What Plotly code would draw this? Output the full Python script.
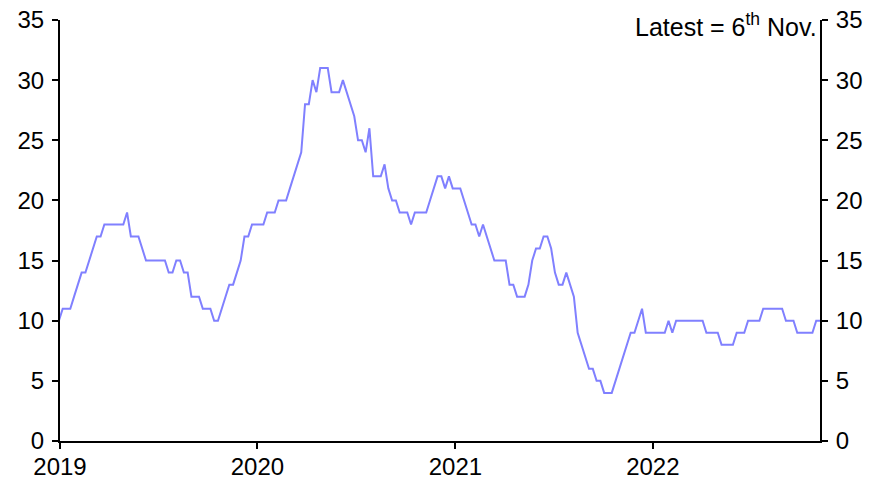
import pandas as pd
import plotly.graph_objects as go

# weekly readings, Sunday 30 Dec 2018 .. Sunday 6 Nov 2022
start_week = "2018-12-30"
values = [
    10, 11, 11, 11, 12, 13, 14, 14, 15, 16, 17, 17, 18, 18, 18, 18, 18, 18, 19, 17,
    17, 17, 16, 15, 15, 15, 15, 15, 15, 14, 14, 15, 15, 14, 14, 12, 12, 12, 11, 11,
    11, 10, 10, 11, 12, 13, 13, 14, 15, 17, 17, 18, 18, 18, 18, 19, 19, 19, 20, 20,
    20, 21, 22, 23, 24, 28, 28, 30, 29, 31, 31, 31, 29, 29, 29, 30, 29, 28, 27, 25,
    25, 24, 26, 22, 22, 22, 23, 21, 20, 20, 19, 19, 19, 18, 19, 19, 19, 19, 20, 21,
    22, 22, 21, 22, 21, 21, 21, 20, 19, 18, 18, 17, 18, 17, 16, 15, 15, 15, 15, 13,
    13, 12, 12, 12, 13, 15, 16, 16, 17, 17, 16, 14, 13, 13, 14, 13, 12, 9, 8, 7,
    6, 6, 5, 5, 4, 4, 4, 5, 6, 7, 8, 9, 9, 10, 11, 9, 9, 9, 9, 9,
    9, 10, 9, 10, 10, 10, 10, 10, 10, 10, 10, 9, 9, 9, 9, 8, 8, 8, 8, 9,
    9, 9, 10, 10, 10, 10, 11, 11, 11, 11, 11, 11, 10, 10, 10, 9, 9, 9, 9, 9,
    10, 10,
]
dates = pd.date_range(start_week, periods=len(values), freq="7D")

year_ticks = ["2019-01-01", "2020-01-01", "2021-01-01", "2022-01-01"]
year_labels = ["2019", "2020", "2021", "2022"]
y_ticks = [0, 5, 10, 15, 20, 25, 30, 35]

FONT = dict(family="Liberation Sans, Arial, sans-serif", size=24, color="#000000")

fig = go.Figure()
fig.add_trace(go.Scatter(
    x=dates, y=values, mode="lines",
    line=dict(color="#8080FF", width=2),
    showlegend=False,
))
# invisible copy so the right-hand axis is drawn
fig.add_trace(go.Scatter(
    x=dates, y=values, mode="lines", yaxis="y2",
    line=dict(color="rgba(0,0,0,0)", width=0),
    showlegend=False, hoverinfo="skip",
))

axis_common = dict(
    range=[0, 35], tickvals=y_ticks, showgrid=False, zeroline=False,
    showline=True, linecolor="#000000", linewidth=2,
    ticks="outside", ticklen=6, tickwidth=2, tickcolor="#000000",
    tickfont=FONT, automargin=False, ticklabelstandoff=3,
    ticklabeloverflow="allow",
)

# page body has an 8px margin, so the figure is a little smaller than the window
fig.update_layout(
    width=875, height=476,
    margin=dict(l=52, r=63, t=12, b=43),
    paper_bgcolor="#ffffff", plot_bgcolor="#ffffff",
    xaxis=dict(
        range=["2019-01-01", "2022-11-06"],
        tickvals=year_ticks, ticktext=year_labels,
        showgrid=False, zeroline=False,
        showline=True, linecolor="#000000", linewidth=2,
        ticks="outside", ticklen=6, tickwidth=2, tickcolor="#000000",
        tickfont=FONT, automargin=False, ticklabelstandoff=-3,
        ticklabeloverflow="allow",
    ),
    yaxis=dict(side="left", **axis_common),
    yaxis2=dict(side="right", overlaying="y", **axis_common),
    annotations=[dict(
        text="Latest = 6<sup>th</sup> Nov.",
        xref="paper", yref="paper", x=0.995, y=1.0,
        xanchor="right", yanchor="middle", xshift=3, yshift=-5, showarrow=False,
        font=dict(family="Liberation Sans, Arial, sans-serif", size=25, color="#000000"),
    )],
)

fig.write_html("out.html")
